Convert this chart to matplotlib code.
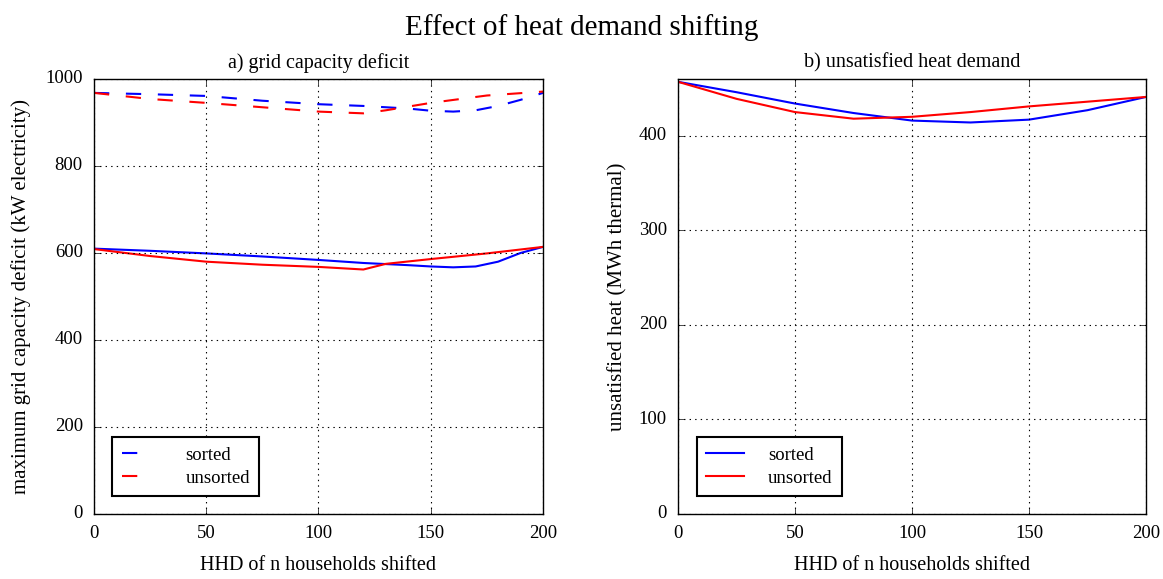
import matplotlib.pyplot as plt

# households shifted (x) and results
n_sorted_grid = [0, 25, 50, 75, 100, 120, 140, 150, 160, 170, 180, 190, 200]
grid_sorted_max = [968, 965, 961, 950, 942, 938, 932, 927, 925, 928, 938, 952, 968]
grid_sorted_min = [610, 605, 599, 592, 584, 577, 572, 569, 567, 569, 580, 600, 614]

n_unsorted_grid = [0, 25, 50, 75, 100, 120, 130, 150, 175, 200]
grid_unsorted_max = [968, 954, 945, 935, 925, 921, 928, 945, 962, 971]
grid_unsorted_min = [609, 593, 580, 573, 568, 562, 575, 586, 599, 614]

n_heat = [0, 25, 50, 75, 100, 125, 150, 175, 200]
heat_sorted = [457, 446, 434, 424, 416, 414, 417, 427, 441]
heat_unsorted = [457, 439, 425, 418, 420, 425, 431, 436, 441]

plt.style.use('classic')
plt.rcParams['font.family'] = ['Liberation Serif', 'DejaVu Serif']
plt.rcParams['figure.facecolor'] = 'white'

fig = plt.figure(figsize=(11.63, 5.79), dpi=100)
ax1 = fig.add_axes([0.0808, 0.1123, 0.3861, 0.7513])
ax2 = fig.add_axes([0.5830, 0.1123, 0.4024, 0.7513])

lw = 1.5
dash = (0, (11, 12))
ax1.plot(n_sorted_grid, grid_sorted_max, color='b', linestyle=dash, linewidth=lw, label='sorted')
ax1.plot(n_unsorted_grid, grid_unsorted_max, color='r', linestyle=dash, linewidth=lw, label='unsorted')
ax1.plot(n_sorted_grid, grid_sorted_min, color='b', linestyle='-', linewidth=lw)
ax1.plot(n_unsorted_grid, grid_unsorted_min, color='r', linestyle='-', linewidth=lw)
ax1.set_xlim(0, 200)
ax1.set_ylim(0, 1000)
ax1.set_xticks([0, 50, 100, 150, 200])
ax1.set_yticks([0, 200, 400, 600, 800, 1000])
ax1.set_title('a) grid capacity deficit', fontsize=14.5, y=1.01)
ax1.set_xlabel('HHD of n households shifted', fontsize=14.5, labelpad=10)
ax1.set_ylabel('maximum grid capacity deficit (kW electricity)', fontsize=15, labelpad=10)

ax2.plot(n_heat, heat_sorted, color='b', linewidth=lw, label='sorted')
ax2.plot(n_heat, heat_unsorted, color='r', linewidth=lw, label='unsorted')
ax2.set_xlim(0, 200)
ax2.set_ylim(0, 460)
ax2.set_xticks([0, 50, 100, 150, 200])
ax2.set_yticks([0, 100, 200, 300, 400])
ax2.set_title('b) unsatisfied heat demand', fontsize=14.5, y=1.01)
ax2.set_xlabel('HHD of n households shifted', fontsize=14.5, labelpad=10)
ax2.set_ylabel('unsatisfied heat (MWh thermal)', fontsize=15, labelpad=8)

for ax, hl, tp in ((ax1, 1.5, 1.9), (ax2, 2.0, 1.3)):
    ax.grid(True, color='k', linestyle=':', linewidth=0.8)
    ax.tick_params(labelsize=13.5, pad=8)
    leg = ax.legend(loc='lower left', fontsize=13.5, numpoints=1, handlelength=hl,
                    handletextpad=tp, borderpad=0.5, labelspacing=0.3,
                    bbox_to_anchor=(0.02, 0.02), fancybox=False)
    leg.get_frame().set_linewidth(1.5)

fig.suptitle('Effect of heat demand shifting', fontsize=21, y=0.975)

plt.savefig('out.png', dpi=100)
